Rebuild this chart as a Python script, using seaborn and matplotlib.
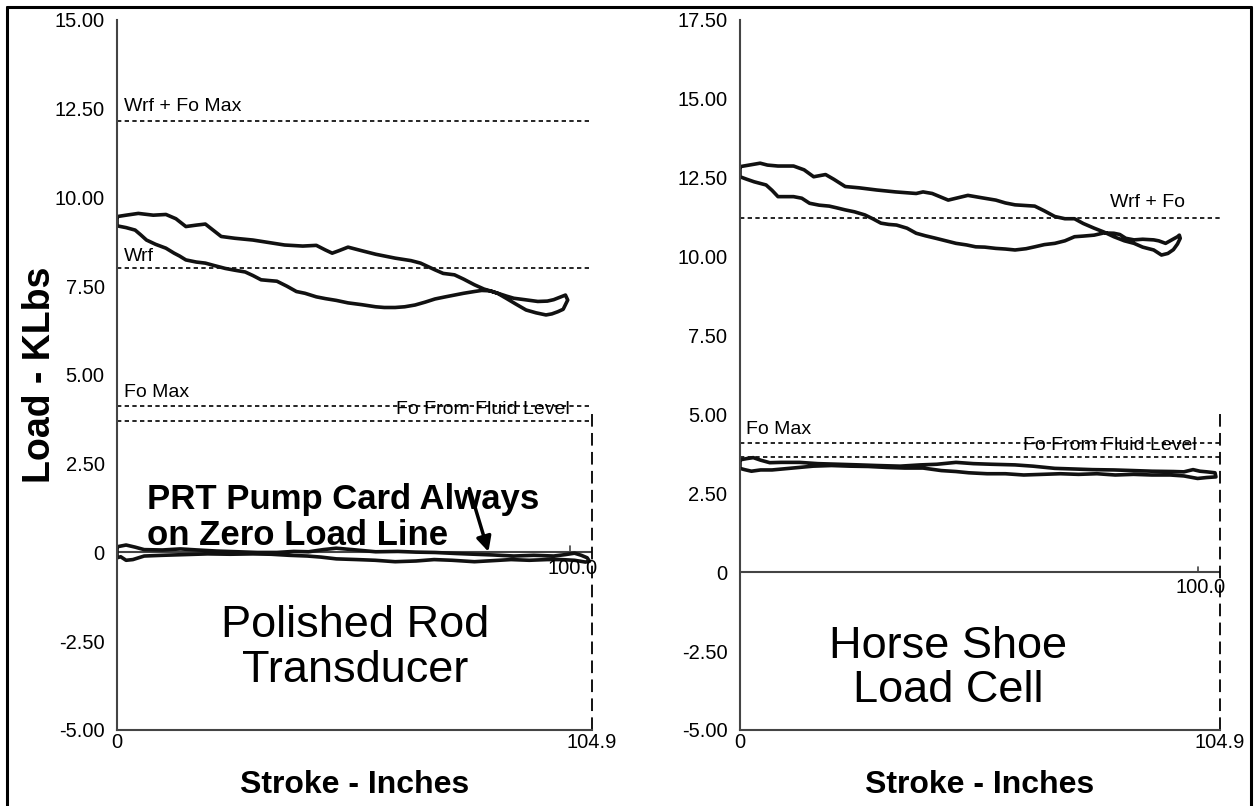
import matplotlib
matplotlib.use("Agg")
import matplotlib.pyplot as plt
from matplotlib import font_manager
from matplotlib.lines import Line2D
import numpy as np
import pandas as pd
import seaborn as sns

## data (stroke in inches, load in KLbs) ##
STROKE_MAX = 104.9
POS_100 = 100.0

# PRT (left panel) surface card: upper trace left->right, then lower trace back
prt_upper_x = [0, 2, 4.7, 8, 10.8, 13, 15.2, 17.5, 19.5, 21, 23, 26, 30, 34, 37, 41, 44, 46, 47.5, 49, 51, 54,
               57.1, 61.4, 64.9, 67, 70.2, 72, 74.5, 76.5, 78.9, 81, 84.1, 86, 87.6, 90, 92.9, 95, 96.4, 98, 99, 99.5]
prt_upper_y = [9.46, 9.5, 9.55, 9.5, 9.52, 9.4, 9.18, 9.22, 9.25, 9.1, 8.9, 8.85, 8.8, 8.72, 8.66, 8.63, 8.65, 8.52,
               8.43, 8.5, 8.6, 8.5, 8.4, 8.29, 8.22, 8.15, 7.96, 7.86, 7.82, 7.7, 7.54, 7.42, 7.3, 7.22, 7.16, 7.12,
               7.07, 7.08, 7.12, 7.2, 7.25, 7.11]
prt_lower_x = [98.5, 97.3, 96, 94.7, 92.5, 90.3, 88, 85.9, 84, 82.4, 80.5, 78.9, 76.5, 74.5, 72.5, 70.2, 68, 65.8,
               63.5, 61.4, 59, 57.1, 54, 51, 48.4, 46, 44, 41.5, 39.6, 37.5, 35.3, 33.5, 31.8, 30, 28.3, 26, 23.9,
               21.5, 19.5, 17.5, 15.2, 13.8, 12.6, 10.8, 8.5, 6.5, 5.2, 4.0, 2, 0, 0]
prt_lower_y = [6.85, 6.78, 6.72, 6.69, 6.75, 6.83, 7.0, 7.16, 7.3, 7.37, 7.38, 7.35, 7.3, 7.25, 7.2, 7.14, 7.05,
               6.97, 6.92, 6.9, 6.9, 6.92, 6.98, 7.03, 7.1, 7.15, 7.2, 7.3, 7.35, 7.5, 7.64, 7.66, 7.68, 7.8, 7.9,
               7.95, 8.0, 8.08, 8.15, 8.18, 8.24, 8.35, 8.43, 8.57, 8.68, 8.8, 8.95, 9.08, 9.15, 9.2, 9.46]

# PRT pump card (sits on the zero load line)
prt_pump_x = [0, 2, 4, 6, 10, 14, 17.8, 22, 26.6, 31, 35.3, 39, 42.3, 45.5, 48.4, 52, 57.1, 62, 66, 70.2, 75,
              78.9, 83, 87.6, 92, 96.4, 99, 101, 102.5, 103.8, 104.3,
              103.4, 101, 98, 95, 91, 87, 83, 78.9, 74, 70, 66, 61.4, 57, 53, 48.4, 45, 42, 38, 34, 30, 25, 20,
              15, 10, 6, 3.5, 2, 0.8, 0, 0]
prt_pump_y = [0.16, 0.21, 0.15, 0.08, 0.07, 0.1, 0.07, 0.04, 0.02, 0.0, 0.0, 0.03, 0.02, 0.08, 0.12, 0.08, 0.02,
              0.03, 0.01, 0.0, -0.03, -0.05, -0.07, -0.1, -0.08, -0.1, -0.06, -0.02, -0.08, -0.15, -0.25,
              -0.27, -0.22, -0.2, -0.2, -0.22, -0.2, -0.23, -0.26, -0.22, -0.2, -0.24, -0.26, -0.22, -0.2, -0.18,
              -0.13, -0.1, -0.08, -0.05, -0.04, -0.05, -0.04, -0.06, -0.08, -0.1, -0.2, -0.22, -0.12, -0.15, 0.16]

# Horse shoe load cell (right panel) surface card
hs_upper_x = [0, 2, 4.4, 6, 8.3, 11.7, 14, 16.1, 18.7, 20.5, 23, 26, 29.9, 34, 38.5, 40, 42, 44, 45.5, 47.5, 49.8,
              53, 55.9, 58, 60.1, 64.4, 66.5, 68.8, 71, 73.1, 75, 77.4, 79.5, 81.7, 84, 86.1, 88, 90.4, 92.1, 93.5,
              94.7, 95.6, 96.2, 96.0]
hs_upper_y = [12.85, 12.9, 12.96, 12.9, 12.87, 12.87, 12.75, 12.53, 12.6, 12.45, 12.22, 12.18, 12.11, 12.05, 12.0,
              12.05, 12.0, 11.88, 11.79, 11.86, 11.94, 11.86, 11.79, 11.7, 11.64, 11.6, 11.45, 11.27, 11.2, 11.2,
              11.05, 10.9, 10.78, 10.63, 10.5, 10.42, 10.3, 10.21, 10.05, 10.1, 10.22, 10.4, 10.58, 10.68]
hs_lower_x = [95.6, 94.6, 93, 91.5, 90.4, 88, 86.1, 84.3, 83, 81.7, 79.5, 77.4, 75, 73.1, 71, 68.8, 66.5, 64.4,
              62.5, 60.1, 58, 55.9, 53.5, 51.5, 49.5, 47.2, 45, 42.8, 40.5, 38.5, 36.5, 34.2, 32.5, 30.8, 29, 27.3,
              25, 23, 21, 19.5, 17.3, 15.2, 13.5, 11.7, 10, 8.3, 7, 5.7, 4.4, 3.1, 1.5, 0, 0]
hs_lower_y = [10.63, 10.55, 10.42, 10.5, 10.53, 10.55, 10.53, 10.58, 10.7, 10.74, 10.75, 10.68, 10.65, 10.63, 10.5,
              10.42, 10.38, 10.31, 10.25, 10.21, 10.24, 10.26, 10.3, 10.31, 10.37, 10.42, 10.5, 10.58, 10.66,
              10.74, 10.9, 11.0, 11.02, 11.06, 11.2, 11.32, 11.42, 11.48, 11.55, 11.6, 11.63, 11.69, 11.85, 11.9,
              11.9, 11.9, 12.1, 12.27, 12.32, 12.37, 12.45, 12.53, 12.85]

# Horse shoe pump card
hs_pump_x = [0, 1.5, 2.9, 4.5, 6.5, 9, 13, 17, 21.6, 26, 30, 35, 39.4, 43, 47.2, 51, 55, 60.1, 64, 68.8, 73, 77,
             81.7, 86, 90, 94.7, 97, 99, 100.5, 102, 103.8,
             104, 102, 100, 97, 94, 90, 86, 82, 78, 74, 70, 66, 62, 58, 54, 50, 47.2, 44, 40, 36, 32, 28, 24, 20,
             16, 13, 10, 7, 4.5, 2.5, 1, 0, 0]
hs_pump_y = [3.56, 3.6, 3.63, 3.55, 3.47, 3.48, 3.48, 3.44, 3.42, 3.4, 3.38, 3.36, 3.4, 3.42, 3.48, 3.44, 3.42, 3.4,
             3.36, 3.29, 3.27, 3.25, 3.24, 3.22, 3.2, 3.19, 3.18, 3.25, 3.2, 3.18, 3.15,
             3.02, 3.0, 2.97, 3.05, 3.08, 3.08, 3.1, 3.08, 3.12, 3.1, 3.12, 3.1, 3.08, 3.12, 3.12, 3.15, 3.19, 3.22,
             3.3, 3.3, 3.32, 3.35, 3.36, 3.38, 3.36, 3.32, 3.28, 3.24, 3.24, 3.2, 3.25, 3.29, 3.56]

# reference load lines
prt_lines = {"Wrf + Fo Max": 12.15, "Wrf": 8.02, "Fo Max": 4.13, "Fo From Fluid Level": 3.70}
hs_lines = {"Wrf + Fo": 11.23, "Fo Max": 4.10, "Fo From Fluid Level": 3.64}

sns.set_style("white")
names = {f.name for f in font_manager.fontManager.ttflist}
SANS = "Liberation Sans" if "Liberation Sans" in names else "DejaVu Sans"
plt.rcParams["font.family"] = [SANS, "DejaVu Sans"]
plt.rcParams["text.color"] = "black"
plt.rcParams["xtick.labelcolor"] = "black"
plt.rcParams["ytick.labelcolor"] = "black"

SPINE = "#444444"
DOT = (0, (2.6, 2.0))


def card(ax, xs, ys):
    df = pd.DataFrame({"x": xs, "y": ys})
    sns.lineplot(data=df, x="x", y="y", sort=False, estimator=None, color="#111111", lw=2.6, ax=ax)
    ax.set_xlabel("")
    ax.set_ylabel("")


def setup_axes(ax, ymax, vline_top):
    ax.set_xlim(0, STROKE_MAX)
    ax.set_ylim(-5, ymax)
    for s in ["top", "right"]:
        ax.spines[s].set_visible(False)
    for s in ["left", "bottom"]:
        ax.spines[s].set_color(SPINE)
        ax.spines[s].set_linewidth(1.5)
    yt = np.arange(-5, ymax + 0.01, 2.5)
    ax.set_yticks(yt)
    ax.set_yticklabels(["0" if abs(v) < 1e-9 else f"{v:.2f}" for v in yt], fontsize=14.5)
    ax.set_yticks(np.arange(-3.75, ymax, 2.5), minor=True)
    ax.tick_params(axis="y", which="major", direction="out", length=5, width=1.2, color=SPINE,
                   labelcolor="black", pad=4)
    ax.tick_params(axis="y", which="minor", direction="out", length=3, width=1, color=SPINE)
    ax.set_xticks([0, STROKE_MAX])
    ax.set_xticklabels(["0", f"{STROKE_MAX}"], fontsize=14.5)
    ax.set_xticks([STROKE_MAX / 2, POS_100], minor=True)
    ax.tick_params(axis="x", which="both", direction="in", length=6, width=1.2, color=SPINE,
                   labelcolor="black", pad=2)
    # zero load line with the 100.0 marker
    ax.plot([0, STROKE_MAX], [0, 0], color=SPINE, lw=1.5)
    ax.plot([POS_100, POS_100], [0, 0.17], color=SPINE, lw=1.2)
    ax.text(POS_100 + 0.6, -0.18, "100.0", ha="center", va="top", fontsize=14.5)
    # end of stroke marker
    ax.plot([STROKE_MAX, STROKE_MAX], [-5, vline_top], color="black", lw=1.3,
            linestyle=(0, (7, 3.5)), clip_on=False)
    ax.text(0.5, -0.078, "Stroke - Inches", transform=ax.transAxes, ha="center", va="center",
            fontsize=23, fontweight="bold")


fig = plt.figure(figsize=(12.57, 8.06), dpi=100)
ax1 = fig.add_axes([0.0931, 0.0943, 0.378, 0.881])
ax2 = fig.add_axes([0.5887, 0.0943, 0.3819, 0.881])

## Left: polished rod transducer ##
setup_axes(ax1, 15, 3.93)
for v in prt_lines.values():
    ax1.plot([0, STROKE_MAX], [v, v], color="black", lw=1.2, linestyle=DOT)
card(ax1, prt_upper_x + prt_lower_x, prt_upper_y + prt_lower_y)
card(ax1, prt_pump_x, prt_pump_y)
ax1.text(1.5, prt_lines["Wrf + Fo Max"] + 0.18, "Wrf + Fo Max", ha="left", va="bottom", fontsize=14)
ax1.text(1.5, prt_lines["Wrf"] + 0.08, "Wrf", ha="left", va="bottom", fontsize=14)
ax1.text(1.5, prt_lines["Fo Max"] + 0.15, "Fo Max", ha="left", va="bottom", fontsize=14)
ax1.text(100, prt_lines["Fo Max"] - 0.1, "Fo From Fluid Level", ha="right", va="center", fontsize=14)
ax1.text(6.6, 0.98, "PRT Pump Card Always\non Zero Load Line", ha="left", va="center",
         fontsize=25, fontweight="bold", linespacing=1.12)
ax1.annotate("", xy=(82, 0.02), xytext=(77.8, 1.8),
             arrowprops=dict(arrowstyle="-|>", lw=2.5, color="black", mutation_scale=22, shrinkA=0, shrinkB=0))
ax1.text(52.6, -2.7, "Polished Rod\nTransducer", ha="center", va="center", fontsize=32.5, linespacing=1.12)

## Right: horse shoe load cell ##
setup_axes(ax2, 17.5, 5.0)
for v in hs_lines.values():
    ax2.plot([0, STROKE_MAX], [v, v], color="black", lw=1.2, linestyle=DOT)
card(ax2, hs_upper_x + hs_lower_x, hs_upper_y + hs_lower_y)
card(ax2, hs_pump_x, hs_pump_y)
ax2.text(97.2, hs_lines["Wrf + Fo"] + 0.2, "Wrf + Fo", ha="right", va="bottom", fontsize=14)
ax2.text(1.3, hs_lines["Fo Max"] + 0.15, "Fo Max", ha="left", va="bottom", fontsize=14)
ax2.text(99.9, hs_lines["Fo Max"] - 0.08, "Fo From Fluid Level", ha="right", va="center", fontsize=14)
ax2.text(45.5, -3.05, "Horse Shoe\nLoad Cell", ha="center", va="center", fontsize=32.5, linespacing=1.12)

fig.text(0.032, 0.535, "Load - KLbs", rotation=90, ha="center", va="center", fontsize=27, fontweight="bold")

# outer frame of the figure (open at the bottom)
fw = 2.2
fig.add_artist(Line2D([6.5 / 1257, 6.5 / 1257], [0, 1 - 6.5 / 806], color="black", lw=fw))
fig.add_artist(Line2D([6.5 / 1257, 1251 / 1257], [1 - 6.5 / 806, 1 - 6.5 / 806], color="black", lw=fw))
fig.add_artist(Line2D([1251 / 1257, 1251 / 1257], [0, 1 - 6.5 / 806], color="black", lw=fw))

plt.savefig("out.png", dpi=100)
